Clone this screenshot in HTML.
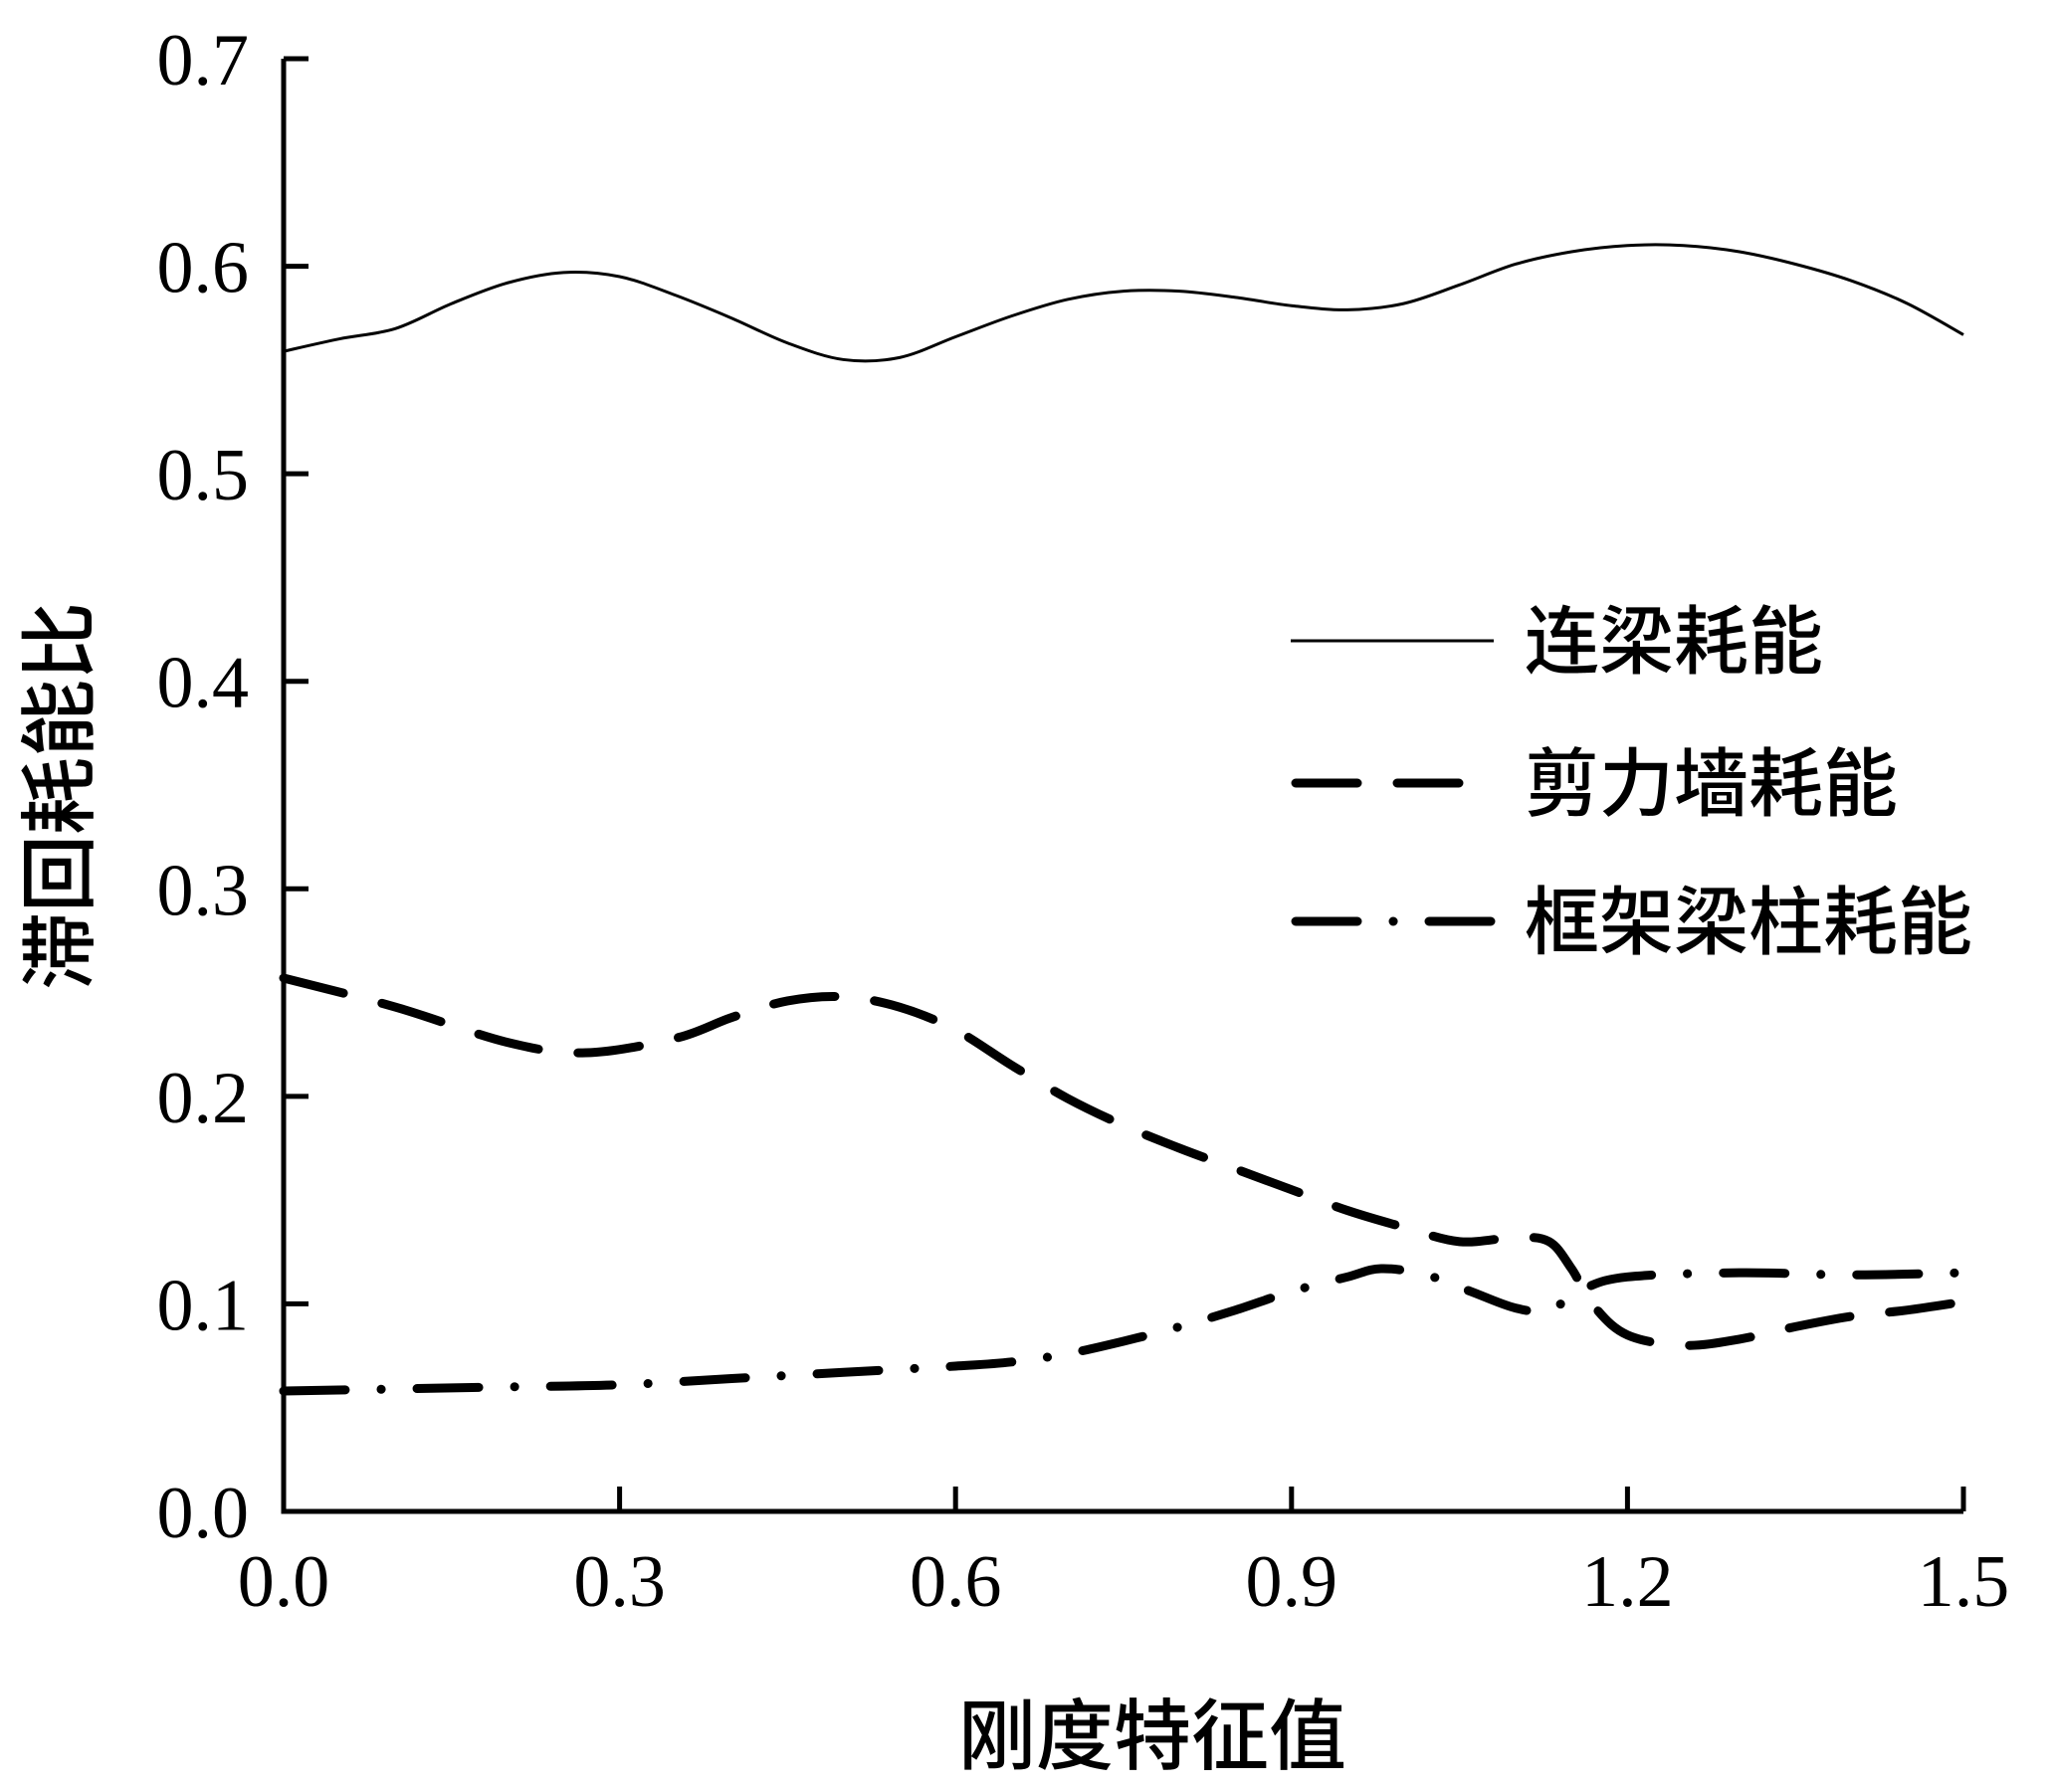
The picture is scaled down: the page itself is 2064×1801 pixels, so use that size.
<!DOCTYPE html>
<html><head><meta charset="utf-8"><style>
html,body{margin:0;padding:0;background:#fff;}
svg{display:block;}
text{font-family:"Liberation Serif","Noto Serif CJK SC",serif;fill:#000;}
.cjk{font-family:"Noto Sans CJK SC","WenQuanYi Zen Hei",sans-serif;font-weight:500;}
</style></head><body>
<svg id="chart" width="2064" height="1801" viewBox="0 0 2064 1801" xmlns="http://www.w3.org/2000/svg">
<g id="axes"></g>
<g id="series"></g>
<g id="legend">
  <line x1="1297" y1="644" x2="1501" y2="644" stroke="#000" stroke-width="3"/>
  <text class="cjk" x="1532" y="671" font-size="75">连梁耗能</text>
  <line x1="1302" y1="787" x2="1498" y2="787" stroke="#000" stroke-width="9" stroke-linecap="round" stroke-dasharray="62 40"/>
  <text class="cjk" x="1532" y="814" font-size="75">剪力墙耗能</text>
  <path d="M1302 926 H1364 M1400 926 H1400.1 M1436 926 H1498" stroke="#000" stroke-width="9" stroke-linecap="round" fill="none"/>
  <text class="cjk" x="1532" y="953" font-size="75">框架梁柱耗能</text>
</g>
<text class="cjk" font-size="78" text-anchor="middle" transform="translate(87,800) rotate(-90)">滞回耗能比</text>
<text class="cjk" font-size="78" x="1158" y="1772" text-anchor="middle">刚度特征值</text>
</svg>
<script>
const xTicks=[0,0.3,0.6,0.9,1.2,1.5];
const xTickLabels=["0.0","0.3","0.6","0.9","1.2","1.5"];
const yTicks=[0,0.1,0.2,0.3,0.4,0.5,0.6,0.7];
const yTickLabels=["0.0","0.1","0.2","0.3","0.4","0.5","0.6","0.7"];
const beamX=[0,0.05,0.1,0.15,0.2,0.25,0.3,0.35,0.4,0.45,0.5,0.55,0.6,0.65,0.7,0.75,0.8,0.85,0.9,0.95,1.0,1.05,1.1,1.15,1.2,1.25,1.3,1.35,1.4,1.45,1.5];
const beamY=[0.559,0.565,0.570,0.582,0.592,0.597,0.595,0.586,0.575,0.563,0.555,0.556,0.566,0.576,0.584,0.588,0.588,0.585,0.581,0.579,0.582,0.591,0.601,0.607,0.610,0.610,0.607,0.601,0.593,0.582,0.567];
const wallX=[0,0.1,0.2,0.27,0.35,0.4,0.45,0.5,0.55,0.6,0.65,0.7,0.75,0.8,0.85,0.9,0.95,1.0,1.05,1.1,1.13,1.15,1.17,1.2,1.25,1.3,1.35,1.4,1.45,1.5];
const wallY=[0.257,0.243,0.226,0.221,0.228,0.238,0.246,0.248,0.243,0.232,0.215,0.199,0.186,0.175,0.165,0.155,0.145,0.137,0.130,0.132,0.130,0.117,0.099,0.085,0.080,0.083,0.089,0.094,0.097,0.101];
const frameX=[0,0.1,0.2,0.3,0.4,0.5,0.6,0.65,0.7,0.75,0.8,0.85,0.9,0.95,0.98,1.02,1.06,1.1,1.13,1.16,1.2,1.3,1.4,1.5];
const frameY=[0.058,0.059,0.060,0.061,0.064,0.067,0.070,0.072,0.076,0.082,0.089,0.097,0.106,0.113,0.117,0.114,0.106,0.098,0.097,0.107,0.113,0.115,0.114,0.115];

const X0=285,X1=1973,Y0=1519,Y1=59;
function sx(v){return X0+(v-0)/(1.5-0)*(X1-X0);}
function sy(v){return Y0-(v-0)/(0.7-0)*(Y0-Y1);}
const NS='http://www.w3.org/2000/svg';
const axes=document.getElementById('axes');
const series=document.getElementById('series');
function mk(tag,attrs,parent){const e=document.createElementNS(NS,tag);for(const k in attrs)e.setAttribute(k,attrs[k]);parent.appendChild(e);return e;}

const ax=mk('path',{d:`M${X0} ${Y1} V${Y0} H${X1}`,stroke:'#000','stroke-width':5,fill:'none'},axes);


yTicks.forEach((t,i)=>{
  const l=mk('line',{x1:X0,x2:X0+25,y1:sy(t),y2:sy(t),stroke:'#000','stroke-width':5},axes);
  
  
  const tx=mk('text',{x:250,y:sy(t)+26,'font-size':74,'text-anchor':'end'},axes);
  
  
  tx.textContent=yTickLabels[i];
});
xTicks.forEach((t,i)=>{
  const l=mk('line',{x1:sx(t),x2:sx(t),y1:Y0,y2:Y0-25,stroke:'#000','stroke-width':5},axes);
  
  
  const tx=mk('text',{x:sx(t),y:1614,'font-size':74,'text-anchor':'middle'},axes);
  
  
  tx.textContent=xTickLabels[i];
});
function smooth(xs,ys){
  const p=xs.map((x,i)=>[sx(x),sy(ys[i])]);
  let d=`M${p[0][0]} ${p[0][1]}`;
  for(let i=0;i<p.length-1;i++){
    const a=p[Math.max(0,i-1)],b=p[i],c=p[i+1],e=p[Math.min(p.length-1,i+2)];
    const c1=[b[0]+(c[0]-a[0])/6,b[1]+(c[1]-a[1])/6];
    const c2=[c[0]-(e[0]-b[0])/6,c[1]-(e[1]-b[1])/6];
    d+=` C${c1[0]} ${c1[1]} ${c2[0]} ${c2[1]} ${c[0]} ${c[1]}`;
  }
  return d;
}
const s1=mk('path',{d:smooth(beamX,beamY),stroke:'#000','stroke-width':3,fill:'none'},series);


const s2=mk('path',{d:smooth(wallX,wallY),stroke:'#000','stroke-width':9,fill:'none','stroke-linecap':'round','stroke-dasharray':'62 40'},series);


const s3=mk('path',{d:smooth(frameX,frameY),stroke:'#000','stroke-width':9,fill:'none','stroke-linecap':'round','stroke-dasharray':'62 36 0.1 36'},series);


</script>
</body></html>
